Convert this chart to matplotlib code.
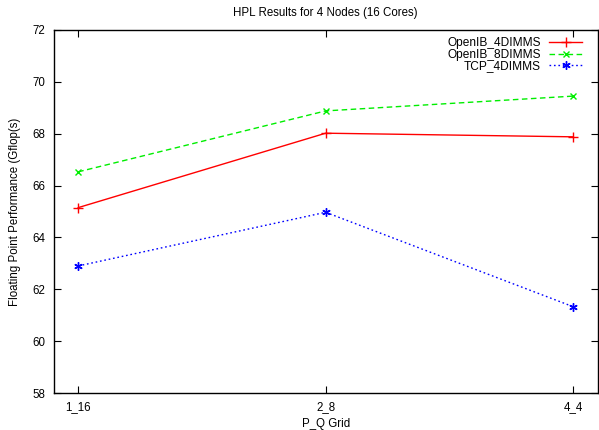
import matplotlib
matplotlib.use("Agg")
import matplotlib.pyplot as plt

categories = ["1_16", "2_8", "4_4"]
openib_4dimms = [65.15, 68.02, 67.88]
openib_8dimms = [66.53, 68.88, 69.45]
tcp_4dimms = [62.90, 64.97, 61.33]
yticks = [58, 60, 62, 64, 66, 68, 70, 72]

plt.rcParams['font.family'] = ['Liberation Sans', 'DejaVu Sans']
plt.rcParams['font.size'] = 8.3

fig = plt.figure(figsize=(5.99, 4.30), dpi=100)
ax = fig.add_axes([53.5/599, 37/430, (599-53.5)/599 - 0.002, (393-30)/430])

x = list(range(len(categories)))
ax.plot(x, openib_4dimms, color='#ff0000', linestyle='-', linewidth=1.0,
        marker='+', markersize=7, markeredgewidth=1.0, label='OpenIB_4DIMMS')
ax.plot(x, openib_8dimms, color='#00ee00', linestyle=(0, (4, 2.5)), linewidth=1.0,
        marker='x', markersize=5, markeredgewidth=1.0, label='OpenIB_8DIMMS')
ax.plot(x, tcp_4dimms, color='#0000ff', linestyle=(0, (1.2, 2)), linewidth=1.0,
        marker=(6, 2, 0), markersize=6, markeredgewidth=1.0, label='TCP_4DIMMS')

ax.set_xlim(-0.1, 2.1)
ax.set_ylim(58, 72)
ax.set_xticks(x)
ax.set_xticklabels(categories)
ax.set_yticks(yticks)
ax.set_yticklabels([str(v) for v in yticks])
ax.tick_params(direction='in', length=5, width=0.8, top=True, right=True, pad=6)
for s in ax.spines.values():
    s.set_linewidth(1.0)

ax.set_title('HPL Results for 4 Nodes (16 Cores)', fontsize=8.3, pad=10)
ax.set_xlabel('P_Q Grid', labelpad=3)
ax.set_ylabel('Floating Point Performance (Gflop(s)', labelpad=8)

leg = ax.legend(loc='upper right', frameon=False, markerfirst=False,
                handlelength=2.8, handletextpad=0.7, labelspacing=-0.03,
                borderaxespad=0.3, borderpad=0.3, fontsize=8.6,
                bbox_to_anchor=(0.985, 1.0))
for t in leg.get_texts():
    t.set_ha('right')
leg._legend_box.align = "right"

fig.savefig('out.png', dpi=100)
